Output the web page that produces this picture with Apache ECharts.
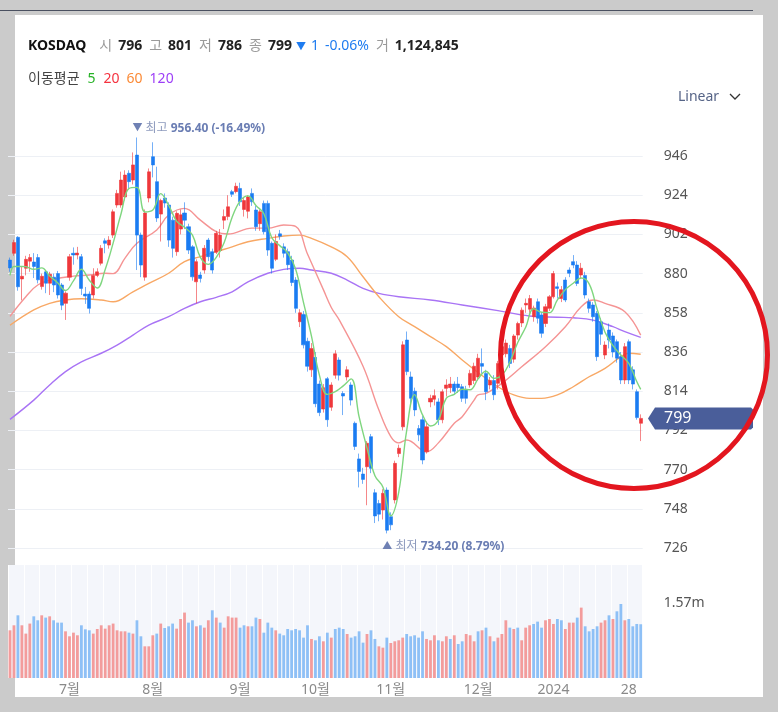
<!DOCTYPE html>
<html><head><meta charset="utf-8">
<script src="https://cdn.jsdelivr.net/npm/echarts@6/dist/echarts.min.js"></script>
<style>
html,body{margin:0;padding:0;width:778px;height:712px;overflow:hidden;background:#cbcbcb;font-family:'Noto Sans','Noto Sans CJK KR',sans-serif;}
#panel{position:absolute;left:15px;top:15px;width:748px;height:682px;background:#fff;}
#topline{position:absolute;left:0;top:10px;width:753px;height:1px;background:#4a5060;}
#c{position:absolute;left:0;top:0;width:778px;height:712px;z-index:2;}
.hdr{position:absolute;z-index:3;font-size:14px;line-height:20px;white-space:nowrap;}
.l{color:#9a9a9a;margin-right:6px;}
.v{color:#222;font-weight:bold;margin-right:7px;}
.b{color:#1f7cf0;}
#lin{position:absolute;z-index:3;left:678px;top:86px;font-size:14px;line-height:20px;color:#566487;}
</style></head>
<body>
<div id="topline"></div>
<div id="panel"></div>
<div class="hdr" style="left:28px;top:35px;"><b style="color:#111;margin-right:13px;">KOSDAQ</b><span class="l">시</span><span class="v">796</span><span class="l">고</span><span class="v">801</span><span class="l">저</span><span class="v">786</span><span class="l">종</span><span class="v" style="margin-right:4px;">799</span><span class="b" style="font-size:10px;margin-right:5px;">▼</span><span class="b" style="margin-right:6px;">1</span><span class="b" style="margin-right:7px;">-0.06%</span><span class="l">거</span><span class="v">1,124,845</span></div>
<div class="hdr" style="left:28px;top:68px;color:#444;"><span style="margin-right:8px;">이동평균</span><span style="color:#27b227;margin-right:8px;">5</span><span style="color:#f5323f;margin-right:7px;">20</span><span style="color:#fb8a36;margin-right:7px;">60</span><span style="color:#9d3ff7;">120</span></div>
<div id="lin">Linear <svg width="12" height="8" style="margin-left:6px;vertical-align:middle;"><polyline points="1,1 6,6 11,1" fill="none" stroke="#333" stroke-width="1.3"/></svg></div>
<div id="c"></div>
<script>
// ---- data ----
const opens = [887.6,891.4,900.4,877,883,887,886.5,889,872.7,881,874.6,878,880,873.6,863.3,878,891.4,890.5,889.5,868.5,
868.5,868,879,885.8,898.4,896,901.6,918.5,918.5,923,936.3,932.5,946.5,901.6,878,922.4,945.6,931.6,913.4,922.4,
918.5,910,892.3,905,914,906.3,895,875.4,879.2,882,898.8,892.3,892,893,910,912,926,926,927.8,916,
915,925,915.7,908,919.4,919.4,897,888,902.3,895,892.3,887.6,876.4,853,857,842,826,833,818,804,
821,805,823,831.5,812.7,822,817.5,796,776,767.5,771.6,788.5,757,751,747.3,758.5,743.6,753,779,794,
842.7,822,814,793,798,780,808,809.5,808,798,815.6,816,818,818,816.5,815,817.5,820,822,829.5,
824,817.5,820,818.4,834.3,835,838,832,845.5,852.3,862.4,860,855.8,864.2,856.8,852,860.5,867,872.6,866,
876.4,882,886.7,884.8,879.2,879,864.2,862.4,857.7,853,834.3,848.3,845,841.8,833.4,820.3,841.8,826,813.7,796];
const closes = [883.2,897.4,872.6,878.5,888,889,884,876.5,878.5,874.6,879.7,873.6,868,862.3,869,889.5,890.5,891.5,871.7,867.4,
860.5,879,881,894.2,897,898.8,914.7,925,932.5,935.3,931.6,941,901.6,884.8,914,937.1,941,911.2,921,919.6,
898.8,894.2,913.8,913,910,893.2,878.2,886.7,877.3,894.2,889.5,882,902.6,901.6,912,917.5,924.5,929,920.3,921,
923,920.3,906.3,914.7,903.5,893.2,883,898,901,891.4,885,875,860.5,858,840,828,838,807,802,816,
798,817.5,835,823,811.3,826,809,783,769,764.5,784.8,770.7,744,745,756.7,736,739,773.5,782,840,
825,810,803.5,789.5,775.4,794,810,811.5,798,813.7,817.5,818,814,816,810,810,824,828,832.5,828,
813.7,820,812,829.6,839,841,829.6,845,852,859.5,863.3,866,860.7,854.9,846.5,861.4,867,880,871.7,871,
865.2,880.2,884.8,874.5,883,868,860.5,855.8,833.4,846,839.9,842.7,836,832.5,820.3,839,820.3,818,799.2,798.73];
const highs = [889,899,901,884,890,891,891.5,891,880,882,881,880,881.5,874.7,870,891,894.7,895,891,872.5,
870,883,883,896,899.8,901,916,927,937.2,938,938,948,956.4,903,916,939,953.7,940,922,925,
920,912,915,916,920,908,896,888,881,896,900,894,904,905,916,924,927,931,931,923,
924,927.8,918,916,921,921,898,902,904.5,897,894,890,878,860,859,844,841,836,820,818,
822,819,837,833,814,828,819,797,779,771,786,790,759,753,759,760,746,775,784,842,
847.5,825,816,795,800,797,812,815,810,815,820.7,822,819.5,822,818,817,826,830,835,838,
826,822,823,831,849,843,840,846,853,861,866,868,862,866,858,863,868,881.5,875,873,
878,883.5,890.4,887,886,881,866,864,859,855,842,852,847,843,836,841,843,828,815,801];
const lows = [881,890,870.4,865,879,881,877.5,874.5,871,869,868,869.6,866,859.5,854,876,885,888,868,863,
857.6,866,878,884.6,891.4,894,900,917,917,921,928,930,882,878,876,920,934,909,898,917,
895,889,890,902,905,891,876,863.3,875,880,887,880,891,889,905,910,923,925,918,912,
911,918,904,904,902,890,880,887,899,889,882,873,858,850,838,825,822,805,800,802,
794,803,821,820,800.6,820,806,781,760,762,750,768,740,741,742,734.2,736,751,777,792,
823,806,800,786,773,779,805,806,795,796,811,813,812,813,808,807,816,818,820,824,
809,815,809,815,832,833,827,830,843,850,858,858,853,852,844,850,859,866,866,864,
864,878,883,873,877,866,858,853,831,840,832,838,833,830,818,818,818,815,798,786];
// volume in millions, and bar colour (u = up / d = down) as shown in the volume panel
const volume = [0.998,1.103,1.312,1.103,0.929,1.139,1.291,1.208,1.312,1.264,1.291,1.208,1.159,1.159,0.977,0.873,0.949,0.894,1.103,1.019,
0.998,0.929,1.026,1.103,1.033,1.103,1.139,0.998,0.977,0.977,0.949,0.929,1.208,0.873,0.663,0.663,0.894,0.929,1.139,1.047,
1.082,1.139,1.033,1.235,1.369,1.159,1.208,1.082,1.103,1.054,1.208,1.417,1.264,1.159,1.054,1.291,1.264,1.264,1.054,1.103,
1.082,1.082,1.264,1.235,0.949,1.159,1.054,0.998,0.929,0.894,1.026,0.998,1.026,0.998,0.845,1.103,0.817,0.789,0.873,0.768,
0.949,0.845,1.026,1.054,1.026,0.921,0.845,0.873,0.977,0.740,0.921,0.998,0.817,0.663,0.635,0.845,0.733,0.768,0.789,0.845,
0.921,0.873,0.894,0.845,0.977,0.817,0.789,0.894,0.789,0.768,0.873,0.817,0.894,0.712,0.768,0.921,0.894,0.768,0.977,0.998,
1.054,0.873,0.768,0.845,0.921,1.208,1.054,1.026,1.054,0.789,1.054,1.103,1.131,1.180,1.054,1.208,1.235,1.131,1.235,1.208,
1.026,1.159,1.159,1.264,1.473,1.082,0.977,1.026,1.082,1.159,1.208,1.312,1.235,1.396,1.549,1.208,1.235,1.082,1.131,1.125];
const volDir = [
 'uuduuuddud','uddduuuudd','duuuuuuuuu','dudduuudud','dduuuddudu',
 'ududuuuudd','uddudddudd','dddddduddu','dudddudddd','udduuduuuu',
 'ddddduuudu','ududduuudu','duduuududu','uuddduuudd','uuududdddu','ududdudddd'
].join('');
const ma5 = [[0,879],[1,884],[2,884],[3,884],[4,883.9],[6,882.4],[8,883.2],[10,878.7],[12,874.9],[14,870.5],[16,875.9],[18,882.4],[20,876.3],[22,871.9],[24,882.3],[26,897.1],[28,913.6],[30,927.8],[32,928.4],[34,914.6],[36,915.7],[38,924.9],[40,918.3],[42,909.5],[44,906],[46,901.6],[48,889.1],[50,885.2],[52,889.1],[54,897.5],[56,911.6],[58,920.7],[60,923.6],[62,918.2],[64,913.6],[66,900.1],[68,895.7],[70,891.7],[72,882.6],[74,863.7],[76,844.9],[78,823],[80,812.2],[82,813.7],[84,817],[86,820.9],[88,799.7],[90,782.1],[92,766.6],[94,760.2],[96,744.1],[98,757.4],[100,791.9],[102,812.1],[104,800.7],[106,794.5],[108,797.8],[110,810.1],[112,812.2],[114,815.1],[116,814.8],[118,820.9],[120,825.2],[122,821.2],[124,822.9],[126,830.2],[128,841.3],[130,849.9],[132,860.3],[134,858.3],[136,858.1],[138,865.3],[140,871],[142,874.6],[144,877.5],[146,874.2],[148,860.1],[150,847.1],[152,839.6],[154,834.3],[156,829.6],[158,819.4],[159,815]];
const ma20 = [[0,856],[4,867],[7,873.6],[11,876.8],[16,878.6],[20,879.2],[24,880.2],[26,880],[29,888.7],[32,897],[37,904.5],[40,912.9],[44,916.6],[48,910],[52,903.5],[55,902.2],[61,905.5],[65,905.5],[69,907.3],[72,906.5],[75,891],[79,871],[81,861],[83,854],[89,828],[93,803.4],[96,788.5],[98,785],[100,786.6],[105,780],[108,785],[112,796],[114,799.7],[117,809],[118,811.9],[120,812.8],[124,818.4],[129,827.7],[135,839],[140,850.2],[144,861.4],[147,865.2],[150,863.3],[155,858.6],[159,845.5]];
const ma60 = [[0,851],[6,859.6],[10,863.3],[14,865.2],[18,865.9],[23,865.2],[26,864.2],[31,869.8],[35,874.5],[40,880.2],[44,886.7],[48,889.5],[52,892.3],[56,895],[60,897.9],[65,899.8],[69,901.1],[73,901.6],[76,899.8],[81,895],[85,889.5],[89,878.2],[93,867],[98,855.8],[102,850.2],[106,844.6],[110,839],[114,831.5],[118,824.5],[123,816.5],[127,811.9],[131,810],[134,810],[138,811.9],[142,816.5],[146,822.1],[150,826.8],[154,833.4],[156,835.3],[159,834.7]];
const ma120 = [[0,798.2],[6,809],[10,817.5],[14,825],[18,830.5],[23,835.3],[27,839.9],[31,845.5],[35,851.1],[40,855.8],[44,860.5],[48,864.2],[52,866.7],[56,869.8],[60,875.4],[65,880.2],[69,882.4],[73,883],[76,882],[81,880.2],[85,876.4],[89,871.7],[93,868.9],[98,867],[106,865.2],[114,862.4],[123,859.2],[131,856.2],[138,855.5],[142,855.2],[147,853.9],[152,850.2],[155,847.4],[159,844.2]];
const tickIdx = [15,36,58,77,96,118,137,156];
const tickText = ['7월','8월','9월','10월','11월','12월','2024','28'];
const priceTicks = {min:726, max:968, step:22};
const volTick = 1.57;

// ---- build ----
const N = closes.length;
const cats = closes.map((_, i) => String(i));
const ohlc = closes.map((c, i) => [opens[i], c, lows[i], highs[i]]);
let hiI = 0, loI = 0;
highs.forEach((h, i) => { if (h > highs[hiI]) hiI = i; });
lows.forEach((l, i) => { if (l < lows[loI]) loI = i; });
const last = closes[N - 1];
const hiPct = ((last / highs[hiI] - 1) * 100).toFixed(2);
const loPct = ((last / lows[loI] - 1) * 100).toFixed(2);
const dirs = volDir.split('');
const UP = '#ef373b', DN = '#1a7cf2';
const FONT = "'Noto Sans','Noto Sans CJK KR',sans-serif";
const nLines = (priceTicks.max - priceTicks.min) / priceTicks.step + 1;
const gridColors = Array.from({length: nLines}, (_, k) => k === nLines - 1 ? 'rgba(0,0,0,0)' : '#edf0f5');

const chart = echarts.init(document.getElementById('c'), null, {renderer: 'canvas'});
const rich = {
  t: {color: '#6f81b4', fontSize: 10, fontFamily: FONT},
  k: {color: '#8d9abd', fontSize: 12, fontFamily: FONT},
  v: {color: '#6a7db3', fontSize: 12, fontWeight: 'bold', fontFamily: FONT}
};
chart.setOption({
  animation: false,
  backgroundColor: 'transparent',
  textStyle: {fontFamily: FONT},
  grid: [
    {left: 8, width: 634.7, top: 116.8, height: 431.2},
    {left: 8, width: 634.7, top: 565, height: 113, show: true, backgroundColor: '#f4f6fb', borderWidth: 0}
  ],
  xAxis: [
    {type: 'category', gridIndex: 0, data: cats, axisLine: {show: false}, axisTick: {show: false}, axisLabel: {show: false}, splitLine: {show: false}},
    {type: 'category', gridIndex: 1, data: cats, axisLine: {show: false}, axisTick: {show: false},
     axisLabel: {interval: (i) => tickIdx.includes(i), formatter: (v, i) => { const k = tickIdx.indexOf(i); return k >= 0 ? tickText[k] : ''; },
       color: '#8a8a8a', fontSize: 14, margin: 5, fontFamily: FONT},
     splitLine: {show: true, interval: 3, lineStyle: {color: '#ffffff', width: 1}}}
  ],
  yAxis: [
    {type: 'value', gridIndex: 0, position: 'right', min: priceTicks.min, max: priceTicks.max, interval: priceTicks.step,
     axisLine: {show: false}, axisTick: {show: false},
     axisLabel: {color: '#555', fontSize: 14, margin: 21, showMaxLabel: false, fontFamily: FONT},
     splitLine: {show: true, lineStyle: {color: gridColors, width: 1}}},
    {type: 'value', gridIndex: 1, position: 'right', min: 0, max: 2.365, interval: volTick,
     axisLine: {show: false}, axisTick: {show: false}, splitLine: {show: false},
     axisLabel: {color: '#555', fontSize: 14, margin: 21, fontFamily: FONT,
       formatter: (v) => Math.abs(v - volTick) < 1e-6 ? volTick.toFixed(2) + 'm' : ''}}
  ],
  series: [
    {type: 'candlestick', xAxisIndex: 0, yAxisIndex: 0, data: ohlc, barWidth: 3.6, z: 3,
     itemStyle: {color: UP, color0: DN, borderColor: 'rgba(239,55,59,0.6)', borderColor0: 'rgba(26,124,242,0.6)', borderWidth: 1},
     markPoint: {symbol: 'circle', symbolSize: 1, itemStyle: {color: 'rgba(0,0,0,0)'}, silent: true,
       data: [
         {coord: [hiI, highs[hiI]], label: {show: true, position: 'right', distance: 0, offset: [-5, -9],
           formatter: '{t|▼} {k|최고} {v|' + highs[hiI].toFixed(2) + ' (' + hiPct + '%)}', rich: rich}},
         {coord: [loI, lows[loI]], label: {show: true, position: 'right', distance: 0, offset: [-5, 13],
           formatter: '{t|▲} {k|최저} {v|' + lows[loI].toFixed(2) + ' (' + loPct + '%)}', rich: rich}}
       ]}},
    {type: 'line', name: 'MA120', xAxisIndex: 0, yAxisIndex: 0, data: ma120, smooth: 0.4, showSymbol: false, lineStyle: {color: '#a974f5', width: 1.4}, z: 2},
    {type: 'line', name: 'MA60', xAxisIndex: 0, yAxisIndex: 0, data: ma60, smooth: 0.4, showSymbol: false, lineStyle: {color: '#f8a865', width: 1.4}, z: 2},
    {type: 'line', name: 'MA20', xAxisIndex: 0, yAxisIndex: 0, data: ma20, smooth: 0.4, showSymbol: false, lineStyle: {color: '#f59494', width: 1.4}, z: 2},
    {type: 'line', name: 'MA5', xAxisIndex: 0, yAxisIndex: 0, data: ma5, smooth: 0.4, showSymbol: false, lineStyle: {color: '#7fd67f', width: 1.4}, z: 4},
    {type: 'bar', xAxisIndex: 1, yAxisIndex: 1, barWidth: 2.8,
     data: volume.map((v, i) => ({value: v, itemStyle: {color: dirs[i] === 'u' ? '#f39c9c' : '#8ec0f6'}}))}
  ]
});

const ty = chart.convertToPixel({yAxisIndex: 0}, last);
chart.setOption({
  graphic: [
    {type: 'polygon', z: 100, shape: {points: [[648, ty], [655, ty - 11], [751, ty - 11], [753, ty - 9], [753, ty + 9], [751, ty + 11], [655, ty + 11]]}, style: {fill: '#4a5e9a'}},
    {type: 'text', z: 101, x: 664, y: ty, style: {text: String(Math.round(last)), fill: '#ffffff', fontSize: 16, fontFamily: FONT, verticalAlign: 'middle'}},
    {type: 'circle', z: 102, shape: {cx: 634, cy: 355, r: 133.5}, style: {fill: 'none', stroke: '#e3161f', lineWidth: 5}}
  ]
});
</script>
</body></html>
